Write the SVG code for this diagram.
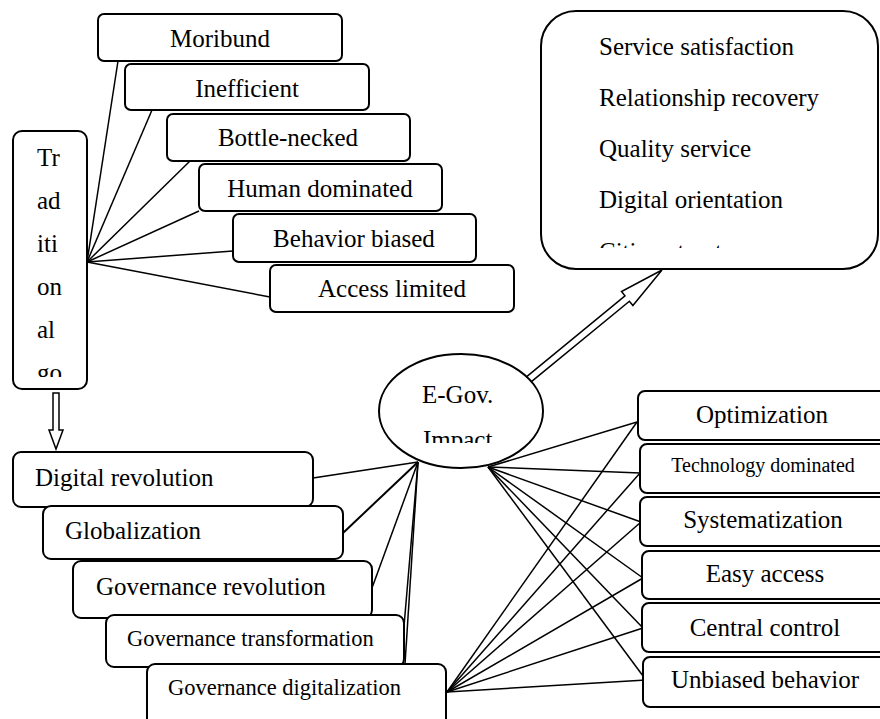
<svg xmlns="http://www.w3.org/2000/svg" width="880" height="719" viewBox="0 0 880 719">
<style>
.box{fill:#fff;stroke:#000;stroke-width:2}
.t{font-family:"Liberation Serif","Times New Roman",serif;font-size:25px;fill:#000}
.m{text-anchor:middle}
.s{font-size:20px}
.g{font-size:22.5px}
.c line{stroke:#000;stroke-width:1.5}
.arr{fill:#fff;stroke:#000;stroke-width:1.5;stroke-linejoin:miter}
</style>
<defs>
<clipPath id="clipTrad"><rect x="13" y="131" width="74" height="246"/></clipPath>
<clipPath id="clipEgov"><rect x="379" y="354" width="164" height="89"/></clipPath>
<clipPath id="clipOut"><rect x="541" y="11" width="337" height="237"/></clipPath>
</defs>

<g id="connectors" class="c">
<line x1="87" y1="262" x2="118" y2="61"/>
<line x1="87" y1="262" x2="152" y2="110"/>
<line x1="87" y1="262" x2="190" y2="161"/>
<line x1="87" y1="262" x2="199" y2="211"/>
<line x1="87" y1="262" x2="233" y2="251"/>
<line x1="87" y1="262" x2="270" y2="297"/>
<line x1="418" y1="462" x2="313" y2="478"/>
<line x1="418" y1="462" x2="343" y2="533" style="stroke-width:2"/>
<line x1="418" y1="462" x2="372" y2="588"/>
<line x1="418" y1="462" x2="403" y2="638"/>
<line x1="418" y1="462" x2="405" y2="664"/>
<line x1="488" y1="467" x2="637" y2="422"/>
<line x1="488" y1="467" x2="640" y2="473"/>
<line x1="488" y1="467" x2="641" y2="522"/>
<line x1="488" y1="467" x2="643" y2="578"/>
<line x1="488" y1="467" x2="643" y2="628"/>
<line x1="488" y1="467" x2="646" y2="680"/>
<line x1="447" y1="692" x2="637" y2="422"/>
<line x1="447" y1="692" x2="640" y2="473"/>
<line x1="447" y1="692" x2="641" y2="522"/>
<line x1="447" y1="692" x2="643" y2="578"/>
<line x1="447" y1="692" x2="643" y2="628"/>
<line x1="447" y1="692" x2="646" y2="680"/>
<polygon class="arr" points="53,393 59,393 59,430 63,430 56,449 49,430 53,430"/>
<polygon class="arr" points="525.8,377.3 625.0,295.8 621.5,291.5 662,270 632.9,305.5 629.4,301.2 530.2,382.7"/>
</g>

<g id="traditional">
<rect class="box" x="13" y="131" width="74" height="258" rx="9"/>
<g clip-path="url(#clipTrad)" class="t">
<text x="37" y="166">Tr</text>
<text x="37" y="209">ad</text>
<text x="37" y="252">iti</text>
<text x="37" y="295">on</text>
<text x="37" y="338">al</text>
<text x="37" y="381">go</text>
</g>
</g>

<g id="moribund"><rect class="box" x="98" y="14" width="244" height="47" rx="6"/><text class="t m" x="220" y="47">Moribund</text></g>
<g id="inefficient"><rect class="box" x="125" y="64" width="244" height="46" rx="6"/><text class="t m" x="247" y="97">Inefficient</text></g>
<g id="bottle-necked"><rect class="box" x="167" y="114" width="243" height="47" rx="6"/><text class="t m" x="288" y="146">Bottle-necked</text></g>
<g id="human-dominated"><rect class="box" x="199" y="164" width="243" height="47" rx="6"/><text class="t m" x="320" y="197">Human dominated</text></g>
<g id="behavior-biased"><rect class="box" x="233" y="214" width="243" height="48" rx="6"/><text class="t m" x="354" y="247">Behavior biased</text></g>
<g id="access-limited"><rect class="box" x="270" y="265" width="244" height="47" rx="6"/><text class="t m" x="392" y="297">Access limited</text></g>

<g id="outcomes">
<rect class="box" x="541" y="11" width="337" height="258" rx="35"/>
<g clip-path="url(#clipOut)" class="t">
<text x="599" y="55">Service satisfaction</text>
<text x="599" y="106">Relationship recovery</text>
<text x="599" y="157">Quality service</text>
<text x="599" y="208">Digital orientation</text>
<text x="599" y="259.5">Citizen trust</text>
</g>
</g>

<g id="egov">
<ellipse class="box" cx="461" cy="411" rx="82" ry="57"/>
<g clip-path="url(#clipEgov)" class="t">
<text x="422" y="403">E-Gov.</text>
<text x="423" y="448">Impact</text>
</g>
</g>

<g id="digital-revolution"><rect class="box" x="13" y="452" width="300" height="55" rx="8"/><text class="t" x="35" y="486">Digital revolution</text></g>
<g id="globalization"><rect class="box" x="43" y="506" width="300" height="53" rx="8"/><text class="t" x="65" y="539">Globalization</text></g>
<g id="governance-revolution"><rect class="box" x="73" y="561" width="299" height="57" rx="8"/><text class="t" x="96" y="595">Governance revolution</text></g>
<g id="governance-transformation"><rect class="box" x="106" y="615" width="298" height="52" rx="8"/><text class="t g" x="127" y="646">Governance transformation</text></g>
<g id="governance-digitalization"><rect class="box" x="147" y="664" width="299" height="70" rx="8"/><text class="t g" x="168" y="695">Governance digitalization</text></g>

<g id="optimization"><rect class="box" x="638" y="391" width="260" height="49" rx="7"/><text class="t m" x="762" y="423">Optimization</text></g>
<g id="technology-dominated"><rect class="box" x="640" y="444" width="260" height="49" rx="7"/><text class="t m s" x="763" y="472">Technology dominated</text></g>
<g id="systematization"><rect class="box" x="640" y="497" width="260" height="49" rx="7"/><text class="t m" x="763" y="528">Systematization</text></g>
<g id="easy-access"><rect class="box" x="642" y="551" width="260" height="48" rx="7"/><text class="t m" x="765" y="582">Easy access</text></g>
<g id="central-control"><rect class="box" x="642" y="603" width="260" height="49" rx="7"/><text class="t m" x="765" y="636">Central control</text></g>
<g id="unbiased-behavior"><rect class="box" x="643" y="657" width="260" height="50" rx="7"/><text class="t m" x="765" y="688">Unbiased behavior</text></g>
</svg>
